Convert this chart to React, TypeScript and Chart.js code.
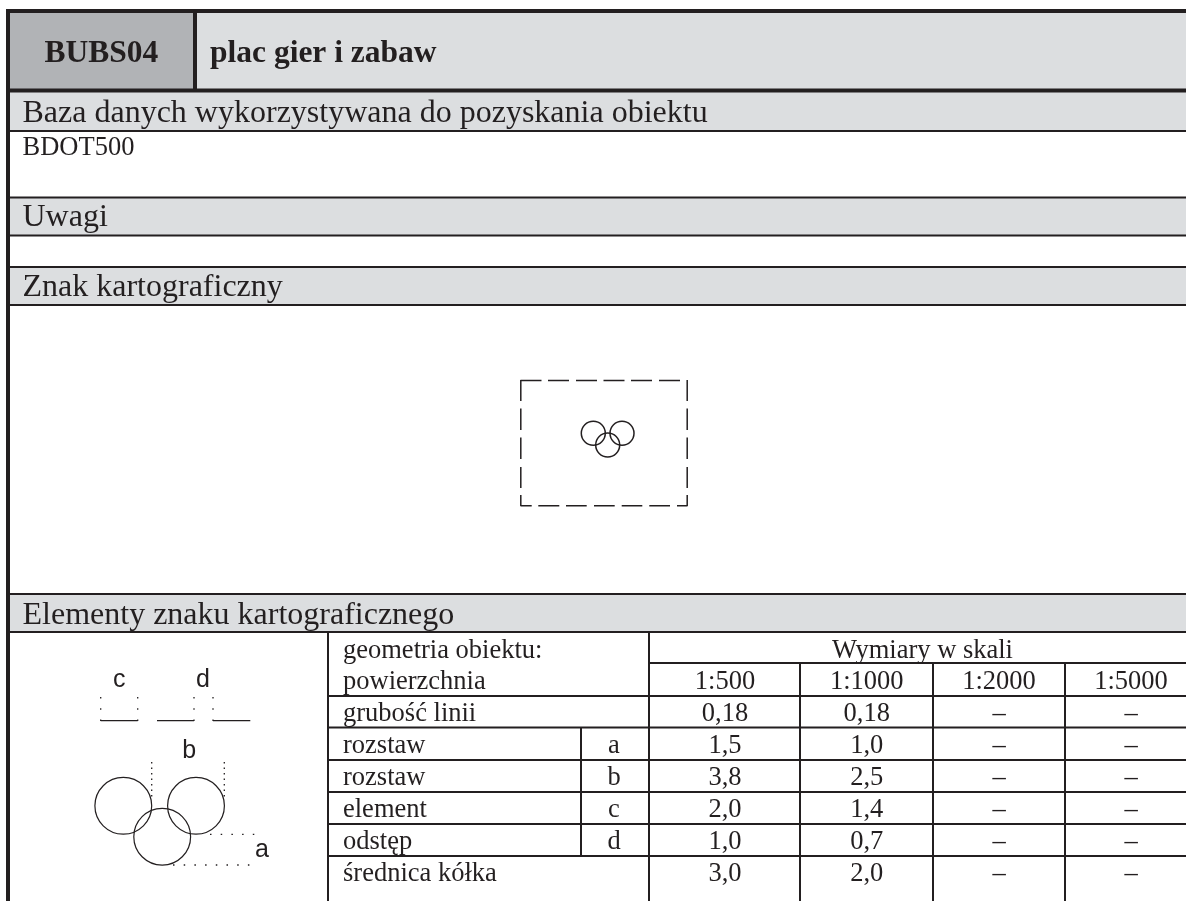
import React, { useEffect, useRef } from "react";
import { Chart, registerables } from "chart.js";

Chart.register(...registerables);

const INK = "#231f20";
const BAND = "#dcdee0";
const CODE_BAND = "#b1b3b6";
const SERIF = '"Liberation Serif"';
const SANS = '"Liberation Sans"';

const code = "BUBS04";
const title = "plac gier i zabaw";
const sections = [
  "Baza danych wykorzystywana do pozyskania obiektu",
  "Uwagi",
  "Znak kartograficzny",
  "Elementy znaku kartograficznego",
];
const sourceDb = "BDOT500";
const tableHeadLeft = ["geometria obiektu:", "powierzchnia"];
const tableHeadRight = "Wymiary w skali";
const scales = ["1:500", "1:1000", "1:2000", "1:5000"];
const rowLabels = ["grubość linii", "rozstaw", "rozstaw", "element", "odstęp", "średnica kółka"];
const rowSymbols = ["", "a", "b", "c", "d", ""];
const values500 = ["0,18", "1,5", "3,8", "2,0", "1,0", "3,0"];
const values1000 = ["0,18", "1,0", "2,5", "1,4", "0,7", "2,0"];
const values2000 = ["–", "–", "–", "–", "–", "–"];
const values5000 = ["–", "–", "–", "–", "–", "–"];

const X_MAX = 1186;
const Y_MAX = 901;
const heavyH = [11, 90.5];
const sectionTop = [129.5, 197.5, 267, 594];
const sectionBottom = [131, 235.5, 305, 632];
const rowY = [663, 696, 727.5, 760, 792, 824, 856];

type P = { x: number; y: number } | { x: null; y: null };
const gap: P = { x: null, y: null };
const seg = (a: number, b: number, c: number, d: number): P[] => [{ x: a, y: b }, { x: c, y: d }, gap];

const tableLines: P[] = [
  ...[...sectionTop.slice(1), ...sectionBottom].flatMap((y) => seg(8, y, X_MAX, y)),
  ...seg(649, 663, X_MAX, 663),
  ...rowY.slice(1).flatMap((y) => seg(328, y, X_MAX, y)),
  ...seg(328, 632, 328, Y_MAX),
  ...seg(649, 632, 649, Y_MAX),
  ...seg(800, 663, 800, Y_MAX),
  ...seg(933, 663, 933, Y_MAX),
  ...seg(1065, 663, 1065, Y_MAX),
  ...seg(581, 727.5, 581, 856),
];
const heavyLines: P[] = [
  ...heavyH.flatMap((y) => seg(6, y, X_MAX, y)),
  ...seg(8, 9, 8, Y_MAX),
  ...seg(195, 11, 195, 90),
];

const dashTopX = [[520.5, 541.5], [548, 569], [576, 597], [603.5, 624.5], [631, 652], [659, 680]];
const dashSideY = [[380, 401], [408.5, 430], [437.5, 459], [467, 488], [495, 506]];
const dashBottomX = [[520.5, 531.7], [538.3, 559.3], [566, 586.7], [594, 614.7], [621.7, 642.3], [649.3, 670], [677, 687.5]];
const signRect: P[] = [
  ...dashTopX.flatMap(([a, b]) => seg(a, 380.5, b, 380.5)),
  ...dashBottomX.flatMap(([a, b]) => seg(a, 505.7, b, 505.7)),
  ...dashSideY.flatMap(([a, b]) => seg(520.8, a, 520.8, b)),
  ...dashSideY.flatMap(([a, b]) => seg(687.2, a, 687.2, b)),
];
const signRings = [{ x: 593.3, y: 433.3 }, { x: 622, y: 433.3 }, { x: 607.7, y: 445 }];
const detailRings = [{ x: 123.3, y: 805.8 }, { x: 196, y: 805.8 }, { x: 162.2, y: 836.7 }];
const detailSegments: P[] = [
  ...seg(100.7, 720.7, 137.7, 720.7),
  ...seg(157, 720.7, 194, 720.7),
  ...seg(213, 720.7, 250.3, 720.7),
];
const cdDots: P[] = [100.7, 137.7, 194, 213].flatMap((x) => seg(x, 697, x, 721));
const bDots: P[] = [...seg(151.7, 762, 151.7, 797), ...seg(224.3, 762, 224.3, 797)];
const aDots: P[] = [...seg(210, 834.3, 256, 834.3), ...seg(173, 865, 250, 865)];

function lineSet(data: P[], width: number, dash: number[] = []) {
  return {
    type: "scatter" as const,
    data,
    showLine: true,
    spanGaps: false,
    borderColor: INK,
    borderWidth: width,
    borderDash: dash,
    pointRadius: 0,
    tension: 0,
    fill: false,
  };
}
function ringSet(data: { x: number; y: number }[], radius: number, width: number) {
  return {
    type: "scatter" as const,
    data,
    showLine: false,
    pointStyle: "circle",
    pointRadius: radius,
    pointBorderWidth: width,
    pointBorderColor: INK,
    pointBackgroundColor: "transparent",
  };
}

const tablePlugin = {
  id: "tablePlugin",
  beforeDatasetsDraw(chart: any) {
    const { ctx, scales: s } = chart;
    const rect = (x0: number, y0: number, x1: number, y1: number, color: string) => {
      const a = s.x.getPixelForValue(x0);
      const b = s.y.getPixelForValue(y0);
      ctx.fillStyle = color;
      ctx.fillRect(a, b, s.x.getPixelForValue(x1) - a, s.y.getPixelForValue(y1) - b);
    };
    rect(8, 11, 195, 90, CODE_BAND);
    rect(195, 11, X_MAX, 90, BAND);
    sectionBottom.forEach((b, i) => rect(8, i === 0 ? 91 : sectionTop[i], X_MAX, b, BAND));
  },
  afterDatasetsDraw(chart: any) {
    const { ctx, scales: s } = chart;
    const put = (t: string, x: number, y: number, font: string, align: CanvasTextAlign = "left") => {
      ctx.font = font;
      ctx.textAlign = align;
      ctx.textBaseline = "alphabetic";
      ctx.fillStyle = INK;
      ctx.fillText(t, s.x.getPixelForValue(x), s.y.getPixelForValue(y));
    };
    put(code, 101.4, 62, `bold 31.5px ${SERIF}`, "center");
    put(title, 210, 62, `bold 31.5px ${SERIF}`);
    const secBase = [122, 226, 296, 623.5];
    sections.forEach((t, i) => put(t, 22.5, secBase[i], `32px ${SERIF}`));
    put(sourceDb, 22.5, 155, `26.5px ${SERIF}`);

    const f = `26.5px ${SERIF}`;
    const cx = [725, 866.7, 999, 1131];
    put(tableHeadLeft[0], 343, 658, f);
    put(tableHeadLeft[1], 343, 688.5, f);
    put(tableHeadRight, 922.5, 658, f, "center");
    scales.forEach((t, i) => put(t, cx[i], 688.5, f, "center"));
    const base = [720.5, 752.5, 784.5, 816.5, 848.5, 881];
    rowLabels.forEach((t, i) => {
      put(t, 343, base[i], f);
      if (rowSymbols[i]) put(rowSymbols[i], 614, base[i], f, "center");
      put(values500[i], cx[0], base[i], f, "center");
      put(values1000[i], cx[1], base[i], f, "center");
      put(values2000[i], cx[2], base[i], f, "center");
      put(values5000[i], cx[3], base[i], f, "center");
    });
    const l = `25px ${SANS}`;
    put("c", 119.3, 686.7, l, "center");
    put("d", 203, 686.7, l, "center");
    put("b", 189.3, 758, l, "center");
    put("a", 262, 856.7, l, "center");
  },
};

export default function App() {
  const ref = useRef<HTMLCanvasElement>(null);
  useEffect(() => {
    document.body.style.margin = "0";
    const chart = new Chart(ref.current!, {
      type: "scatter",
      data: {
        datasets: [
          lineSet(tableLines, 2),
          lineSet(heavyLines, 4),
          lineSet(signRect, 1.5),
          lineSet(detailSegments, 1.3),
          lineSet(cdDots, 1.3, [1.5, 9.7]),
          lineSet(bDots, 1.3, [1.5, 4]),
          lineSet(aDots, 1.3, [1.5, 9.2]),
          ringSet(signRings, 12, 1.5),
          ringSet(detailRings, 28.4, 1.2),
        ] as any,
      },
      options: {
        animation: false,
        responsive: false,
        layout: { padding: 0, autoPadding: false },
        plugins: { legend: { display: false }, tooltip: { enabled: false }, title: { display: false } },
        scales: {
          x: { type: "linear", min: 0, max: X_MAX, display: false },
          y: { type: "linear", min: 0, max: Y_MAX, reverse: true, display: false },
        },
      },
      plugins: [tablePlugin],
    });
    return () => chart.destroy();
  }, []);
  return <canvas ref={ref} width={1186} height={901} style={{ display: "block", background: "#fff" }} />;
}
